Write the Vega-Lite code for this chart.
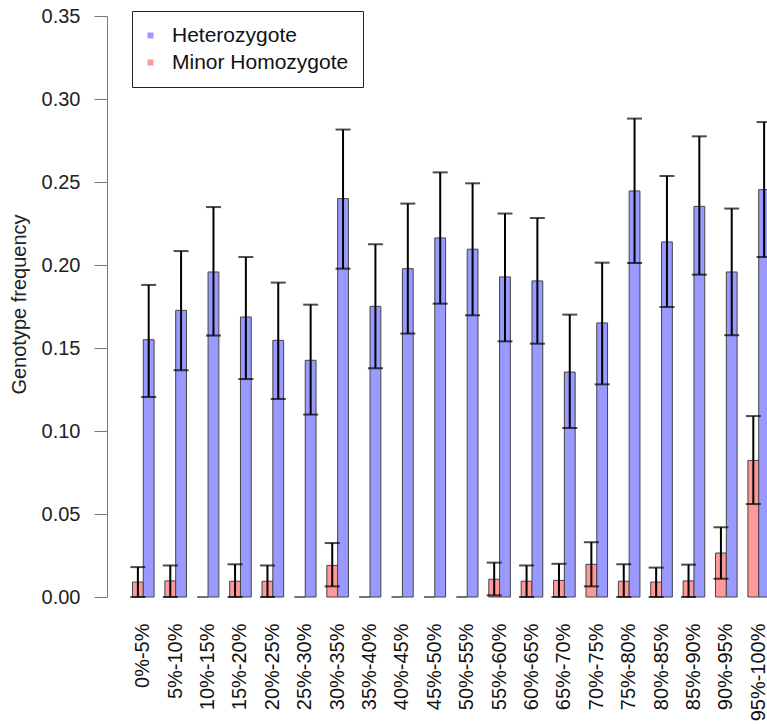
{
  "$schema": "https://vega.github.io/schema/vega-lite/v6.json",
  "width": 660,
  "height": 581,
  "autosize": {"type": "none"},
  "padding": {"left": 107, "top": 16, "right": 0, "bottom": 127},
  "background": "white",
  "config": {
    "font": "Liberation Sans",
    "view": {"stroke": null},
    "legend": {
      "orient": "none",
      "legendX": 25,
      "legendY": -5,
      "strokeColor": "#222",
      "strokeWidth": 1,
      "padding": 14,
      "symbolType": "square",
      "symbolSize": 36,
      "symbolStrokeWidth": 0,
      "symbolOffset": -6,
      "labelFontSize": 21,
      "labelColor": "#111",
      "labelOffset": 11,
      "labelLimit": 400,
      "rowPadding": 5,
      "title": null
    }
  },
  "data": {
    "values": [
      {"bin": "0%-5%", "genotype": "Minor Homozygote", "freq": 0.009, "lo": 0, "hi": 0.018},
      {"bin": "0%-5%", "genotype": "Heterozygote", "freq": 0.155, "lo": 0.1205, "hi": 0.188},
      {"bin": "5%-10%", "genotype": "Minor Homozygote", "freq": 0.0097, "lo": 0, "hi": 0.019},
      {"bin": "5%-10%", "genotype": "Heterozygote", "freq": 0.1727, "lo": 0.1366, "hi": 0.2084},
      {"bin": "10%-15%", "genotype": "Minor Homozygote", "freq": 0, "lo": null, "hi": null},
      {"bin": "10%-15%", "genotype": "Heterozygote", "freq": 0.1958, "lo": 0.1575, "hi": 0.2349},
      {"bin": "15%-20%", "genotype": "Minor Homozygote", "freq": 0.0095, "lo": 0, "hi": 0.0197},
      {"bin": "15%-20%", "genotype": "Heterozygote", "freq": 0.1687, "lo": 0.1313, "hi": 0.2048},
      {"bin": "20%-25%", "genotype": "Minor Homozygote", "freq": 0.0095, "lo": 0, "hi": 0.019},
      {"bin": "20%-25%", "genotype": "Heterozygote", "freq": 0.1546, "lo": 0.1193, "hi": 0.1894},
      {"bin": "25%-30%", "genotype": "Minor Homozygote", "freq": 0, "lo": null, "hi": null},
      {"bin": "25%-30%", "genotype": "Heterozygote", "freq": 0.1426, "lo": 0.1099, "hi": 0.1761},
      {"bin": "30%-35%", "genotype": "Minor Homozygote", "freq": 0.019, "lo": 0.0064, "hi": 0.0325},
      {"bin": "30%-35%", "genotype": "Heterozygote", "freq": 0.24, "lo": 0.1978, "hi": 0.2816},
      {"bin": "35%-40%", "genotype": "Minor Homozygote", "freq": 0, "lo": null, "hi": null},
      {"bin": "35%-40%", "genotype": "Heterozygote", "freq": 0.1751, "lo": 0.1378, "hi": 0.2125},
      {"bin": "40%-45%", "genotype": "Minor Homozygote", "freq": 0, "lo": null, "hi": null},
      {"bin": "40%-45%", "genotype": "Heterozygote", "freq": 0.1978, "lo": 0.1587, "hi": 0.237},
      {"bin": "45%-50%", "genotype": "Minor Homozygote", "freq": 0, "lo": null, "hi": null},
      {"bin": "45%-50%", "genotype": "Heterozygote", "freq": 0.2163, "lo": 0.1767, "hi": 0.2558},
      {"bin": "50%-55%", "genotype": "Minor Homozygote", "freq": 0, "lo": null, "hi": null},
      {"bin": "50%-55%", "genotype": "Heterozygote", "freq": 0.2095, "lo": 0.1697, "hi": 0.2492},
      {"bin": "55%-60%", "genotype": "Minor Homozygote", "freq": 0.0107, "lo": 0.001, "hi": 0.0207},
      {"bin": "55%-60%", "genotype": "Heterozygote", "freq": 0.1928, "lo": 0.154, "hi": 0.231},
      {"bin": "60%-65%", "genotype": "Minor Homozygote", "freq": 0.0095, "lo": 0, "hi": 0.019},
      {"bin": "60%-65%", "genotype": "Heterozygote", "freq": 0.1904, "lo": 0.1526, "hi": 0.2283},
      {"bin": "65%-70%", "genotype": "Minor Homozygote", "freq": 0.01, "lo": 0, "hi": 0.02},
      {"bin": "65%-70%", "genotype": "Heterozygote", "freq": 0.1355, "lo": 0.1018, "hi": 0.1701},
      {"bin": "70%-75%", "genotype": "Minor Homozygote", "freq": 0.0197, "lo": 0.0064, "hi": 0.033},
      {"bin": "70%-75%", "genotype": "Heterozygote", "freq": 0.1651, "lo": 0.1281, "hi": 0.2014},
      {"bin": "75%-80%", "genotype": "Minor Homozygote", "freq": 0.0095, "lo": 0, "hi": 0.0197},
      {"bin": "75%-80%", "genotype": "Heterozygote", "freq": 0.2446, "lo": 0.2012, "hi": 0.2882},
      {"bin": "80%-85%", "genotype": "Minor Homozygote", "freq": 0.009, "lo": 0, "hi": 0.0177},
      {"bin": "80%-85%", "genotype": "Heterozygote", "freq": 0.2139, "lo": 0.1747, "hi": 0.2536},
      {"bin": "85%-90%", "genotype": "Minor Homozygote", "freq": 0.0097, "lo": 0, "hi": 0.0195},
      {"bin": "85%-90%", "genotype": "Heterozygote", "freq": 0.2353, "lo": 0.1942, "hi": 0.2775},
      {"bin": "90%-95%", "genotype": "Minor Homozygote", "freq": 0.0265, "lo": 0.011, "hi": 0.042},
      {"bin": "90%-95%", "genotype": "Heterozygote", "freq": 0.1958, "lo": 0.1577, "hi": 0.234},
      {"bin": "95%-100%", "genotype": "Minor Homozygote", "freq": 0.0823, "lo": 0.056, "hi": 0.109},
      {"bin": "95%-100%", "genotype": "Heterozygote", "freq": 0.2454, "lo": 0.2048, "hi": 0.2861}
    ]
  },
  "encoding": {
    "x": {
      "field": "bin",
      "type": "nominal",
      "sort": null,
      "scale": {"range": [0, 688], "paddingInner": 0.3333, "paddingOuter": 0.787},
      "axis": {
        "title": null,
        "domain": false,
        "ticks": false,
        "labelAngle": 270,
        "labelAlign": "right",
        "labelBaseline": "middle",
        "labelPadding": 26,
        "labelFontSize": 20,
        "labelColor": "#111",
        "labelOverlap": false
      }
    },
    "xOffset": {
      "field": "genotype",
      "type": "nominal",
      "scale": {"domain": ["Minor Homozygote", "Heterozygote"], "paddingInner": 0, "paddingOuter": 0}
    }
  },
  "layer": [
    {
      "mark": {"type": "bar", "stroke": "#444", "strokeWidth": 1},
      "encoding": {
        "y": {
          "field": "freq",
          "type": "quantitative",
          "scale": {"domain": [0, 0.35], "nice": false, "zero": true},
          "axis": {
            "values": [0, 0.05, 0.1, 0.15, 0.2, 0.25, 0.3, 0.35],
            "format": ".2f",
            "grid": false,
            "domainColor": "#777",
            "tickColor": "#777",
            "tickSize": 13,
            "labelPadding": 14,
            "labelFontSize": 20,
            "labelColor": "#222",
            "title": "Genotype frequency",
            "titleFontSize": 20,
            "titleFontWeight": "normal",
            "titleColor": "#222",
            "titleAngle": 270,
            "titleX": -88,
            "titleY": 288,
            "titleAlign": "center",
            "titleBaseline": "middle"
          }
        },
        "color": {
          "field": "genotype",
          "type": "nominal",
          "scale": {"domain": ["Heterozygote", "Minor Homozygote"], "range": ["#9999FF", "#FF9999"]},
          "legend": {"title": null}
        }
      }
    },
    {
      "transform": [{"filter": "datum.lo != null"}],
      "mark": {"type": "rule", "color": "#000", "strokeWidth": 2},
      "encoding": {
        "y": {"field": "lo", "type": "quantitative"},
        "y2": {"field": "hi"}
      }
    },
    {
      "transform": [{"filter": "datum.lo != null"}],
      "mark": {"type": "tick", "color": "#000", "thickness": 2, "size": 15, "orient": "horizontal"},
      "encoding": {
        "y": {"field": "lo", "type": "quantitative"}
      }
    },
    {
      "transform": [{"filter": "datum.lo != null"}],
      "mark": {"type": "tick", "color": "#000", "thickness": 2, "size": 15, "orient": "horizontal"},
      "encoding": {
        "y": {"field": "hi", "type": "quantitative"}
      }
    }
  ]
}
